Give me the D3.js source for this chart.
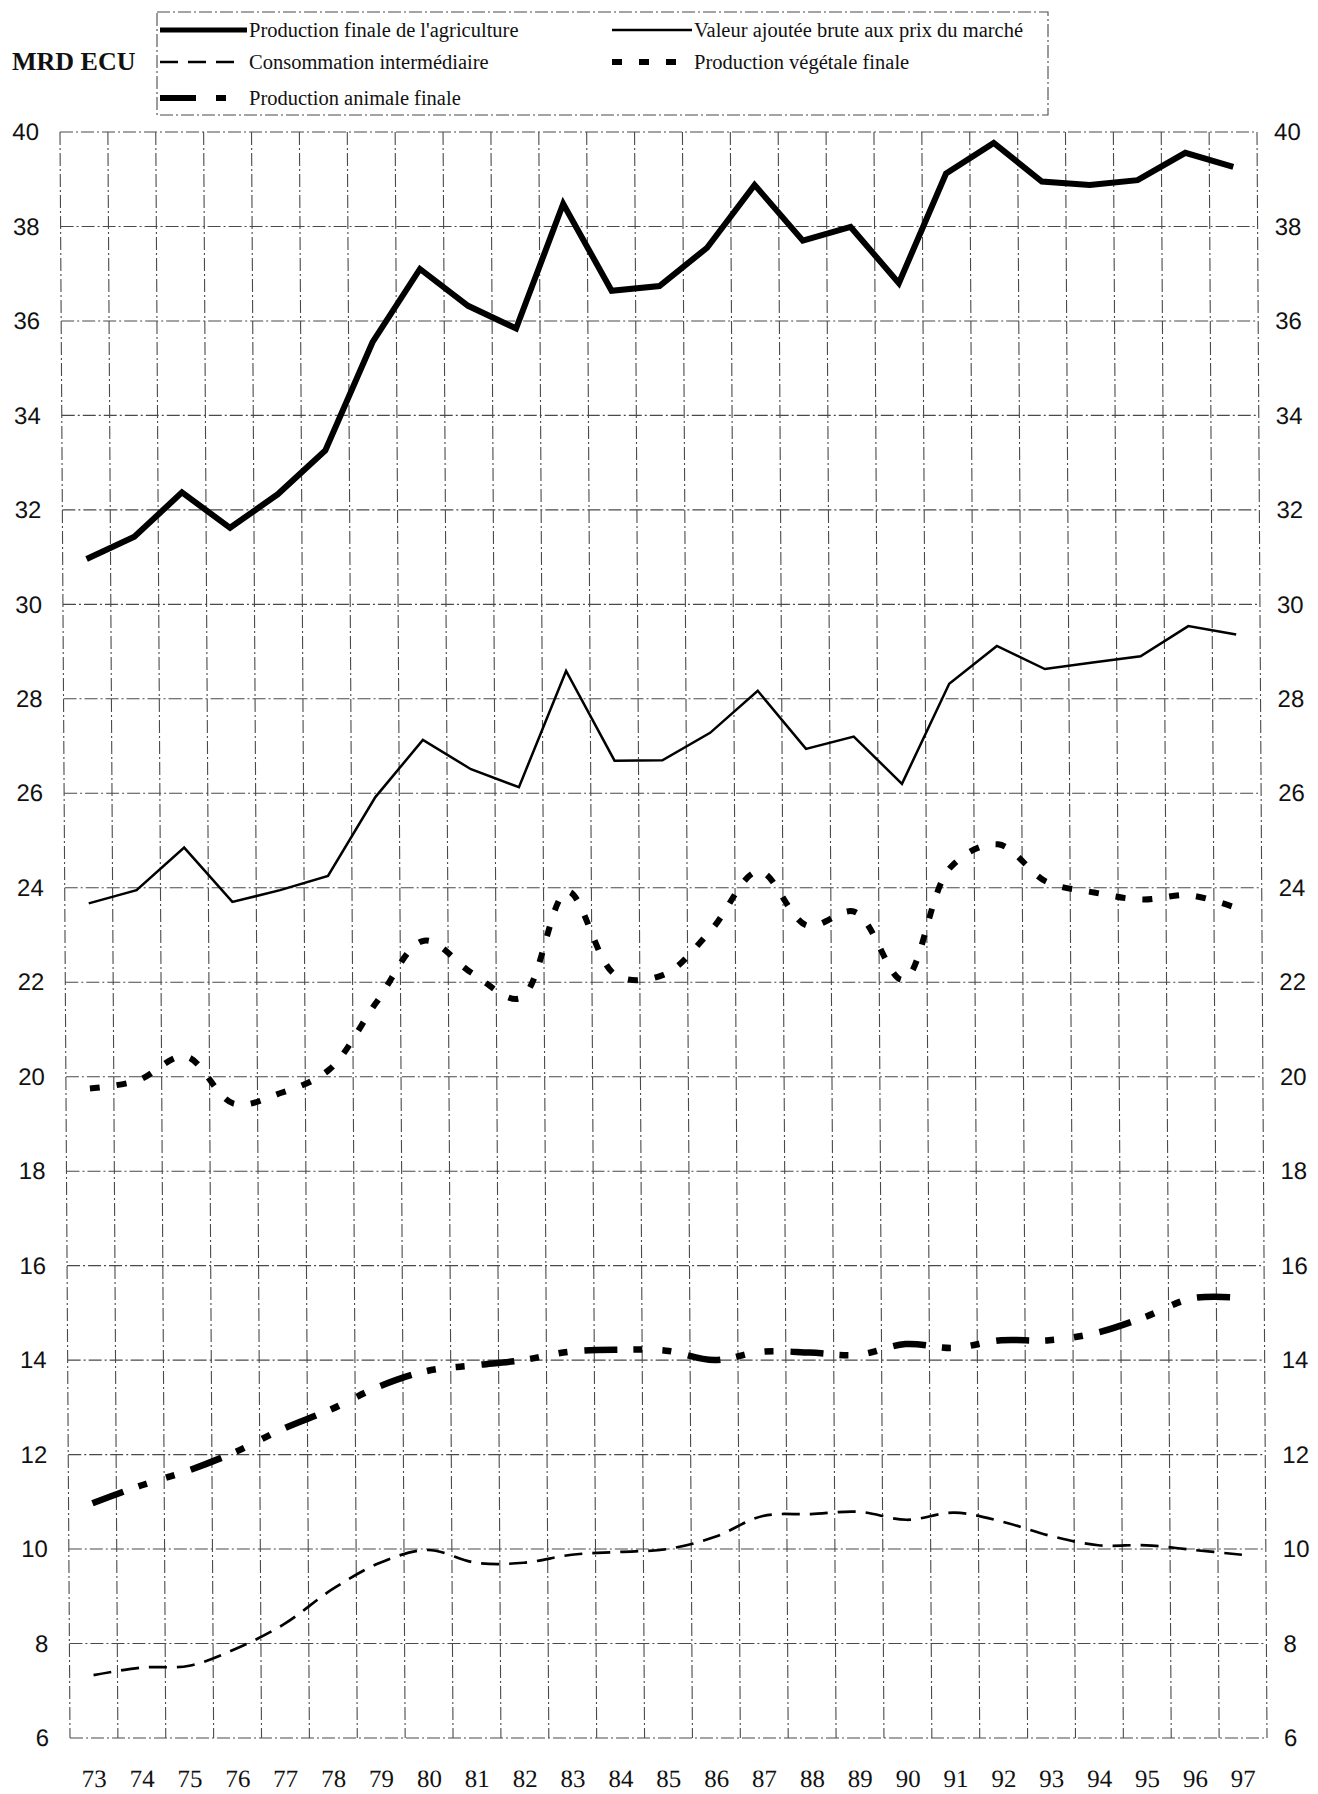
<!DOCTYPE html>
<html><head><meta charset="utf-8">
<script src="https://cdn.jsdelivr.net/npm/d3@7"></script>
<style>body{margin:0;background:#fff}svg{display:block}</style>
</head><body>
<svg id="c" width="1318" height="1794"></svg>
<script>
const years = ['73','74','75','76','77','78','79','80','81','82','83','84','85','86','87','88','89','90','91','92','93','94','95','96','97'];
const yTickValues = [6,8,10,12,14,16,18,20,22,24,26,28,30,32,34,36,38,40];
const productionFinale = [30.96,31.43,32.37,31.62,32.33,33.26,35.55,37.10,36.32,35.84,38.48,36.64,36.74,37.55,38.88,37.70,37.99,36.80,39.12,39.77,38.95,38.88,38.98,39.56,39.26];
const valeurAjoutee = [23.67,23.95,24.85,23.70,23.95,24.25,25.92,27.13,26.51,26.13,28.59,26.69,26.70,27.28,28.17,26.94,27.20,26.20,28.32,29.12,28.63,28.77,28.90,29.54,29.36];
const consommation = [7.33,7.49,7.53,7.90,8.42,9.15,9.71,9.98,9.71,9.71,9.88,9.94,10.00,10.26,10.70,10.74,10.79,10.62,10.77,10.58,10.28,10.08,10.08,9.98,9.88];
const vegetale = [19.75,19.92,20.43,19.43,19.66,20.15,21.58,22.88,22.19,21.66,23.92,22.15,22.16,23.11,24.35,23.20,23.49,22.05,24.43,24.92,24.13,23.90,23.75,23.84,23.56];
const animale = [10.97,11.34,11.66,12.06,12.55,12.96,13.44,13.77,13.89,14.00,14.18,14.22,14.20,14.00,14.18,14.16,14.11,14.34,14.26,14.42,14.42,14.58,14.91,15.31,15.32];
const legendLabels = ["Production finale de l'agriculture","Valeur ajoutée brute aux prix du marché","Consommation intermédiaire","Production végétale finale","Production animale finale"];

const svg = d3.select('#c');
const L = 60, R = 1257, T = 132, B = 1738;
const x = d3.scaleBand().domain(years).range([L, R]);
const y = d3.scaleLinear().domain([6, 40]).range([B, T]);
const k = 10 / (B - T);
const g = svg.append('g').attr('transform', `translate(${-k*T},0) skewX(${Math.atan(k)*180/Math.PI})`);

const gridStyle = s => s.attr('stroke', '#4a4a4a').attr('stroke-width', 1.1).attr('stroke-dasharray', '13,3,2,3').attr('fill', 'none');
// horizontal grid
g.append('g').selectAll('line').data(yTickValues).join('line')
  .attr('x1', L).attr('x2', R).attr('y1', d => y(d)).attr('y2', d => y(d)).call(gridStyle);
// vertical grid
const vx = years.map(d => x(d)).concat([R]);
g.append('g').selectAll('line').data(vx).join('line')
  .attr('x1', d => d).attr('x2', d => d).attr('y1', T).attr('y2', B).call(gridStyle);

// axes
const axL = g.append('g').attr('transform', `translate(${L},0)`)
  .call(d3.axisLeft(y).tickValues(yTickValues).tickSize(0).tickPadding(21));
const axR = g.append('g').attr('transform', `translate(${R},0)`)
  .call(d3.axisRight(y).tickValues(yTickValues).tickSize(0).tickPadding(17));
[axL, axR].forEach(a => {
  a.select('.domain').remove();
  a.selectAll('text').attr('font-family', "'Liberation Sans', Arial, sans-serif").attr('font-size', 24).attr('fill', '#111');
});
const axB = g.append('g').attr('transform', `translate(0,${B})`)
  .call(d3.axisBottom(x).tickSize(0).tickPadding(0));
axB.select('.domain').remove();
axB.selectAll('text').attr('font-family', "'Liberation Serif', 'Times New Roman', serif").attr('font-size', 25)
  .attr('fill', '#111').attr('dy', 0).attr('y', 49);

// series
const mk = (vals, curve) => d3.line().x((d, i) => x(years[i]) + x.bandwidth() / 2).y(d => y(d)).curve(curve)(vals);
const series = [
  {v: productionFinale, c: d3.curveLinear, w: 6, dash: null},
  {v: valeurAjoutee, c: d3.curveLinear, w: 2.5, dash: null},
  {v: consommation, c: d3.curveCatmullRom, w: 2.7, dash: '18,10'},
  {v: vegetale, c: d3.curveCatmullRom, w: 6, dash: '10,17'},
  {v: animale, c: d3.curveCatmullRom, w: 6.5, dash: '33,16,9,20,9,17'}
];
g.append('g').selectAll('path').data(series).join('path')
  .attr('d', s => mk(s.v, s.c)).attr('fill', 'none').attr('stroke', '#000')
  .attr('stroke-width', s => s.w).attr('stroke-dasharray', s => s.dash)
  .attr('stroke-linejoin', 'miter');

// legend
const lg = svg.append('g');
lg.append('rect').attr('x', 157).attr('y', 12).attr('width', 891).attr('height', 103)
  .attr('fill', '#fff').call(gridStyle);
const items = [
  {x1: 160, x2: 247, y: 30, w: 5, dash: null, tx: 249, ty: 37, t: legendLabels[0]},
  {x1: 612, x2: 692, y: 30, w: 2.4, dash: null, tx: 694, ty: 37, t: legendLabels[1]},
  {x1: 160, x2: 234, y: 62, w: 2.4, dash: '18,10', tx: 249, ty: 69, t: legendLabels[2]},
  {x1: 612, x2: 676, y: 62, w: 6, dash: '10,17', tx: 694, ty: 69, t: legendLabels[3]},
  {x1: 160, x2: 232, y: 98, w: 6, dash: '36,20,10,100', tx: 249, ty: 105, t: legendLabels[4]}
];
lg.selectAll('line.s').data(items).join('line').attr('class', 's')
  .attr('x1', d => d.x1).attr('x2', d => d.x2).attr('y1', d => d.y).attr('y2', d => d.y)
  .attr('stroke', '#000').attr('stroke-width', d => d.w).attr('stroke-dasharray', d => d.dash);
lg.selectAll('text').data(items).join('text')
  .attr('x', d => d.tx).attr('y', d => d.ty).text(d => d.t)
  .attr('font-family', "'Liberation Serif', 'Times New Roman', serif").attr('font-size', 20.5).attr('fill', '#111');

svg.append('text').attr('x', 12).attr('y', 70).text('MRD ECU')
  .attr('font-family', "'Liberation Serif', 'Times New Roman', serif").attr('font-weight', 'bold')
  .attr('font-size', 26).attr('fill', '#111');
</script>
</body></html>
